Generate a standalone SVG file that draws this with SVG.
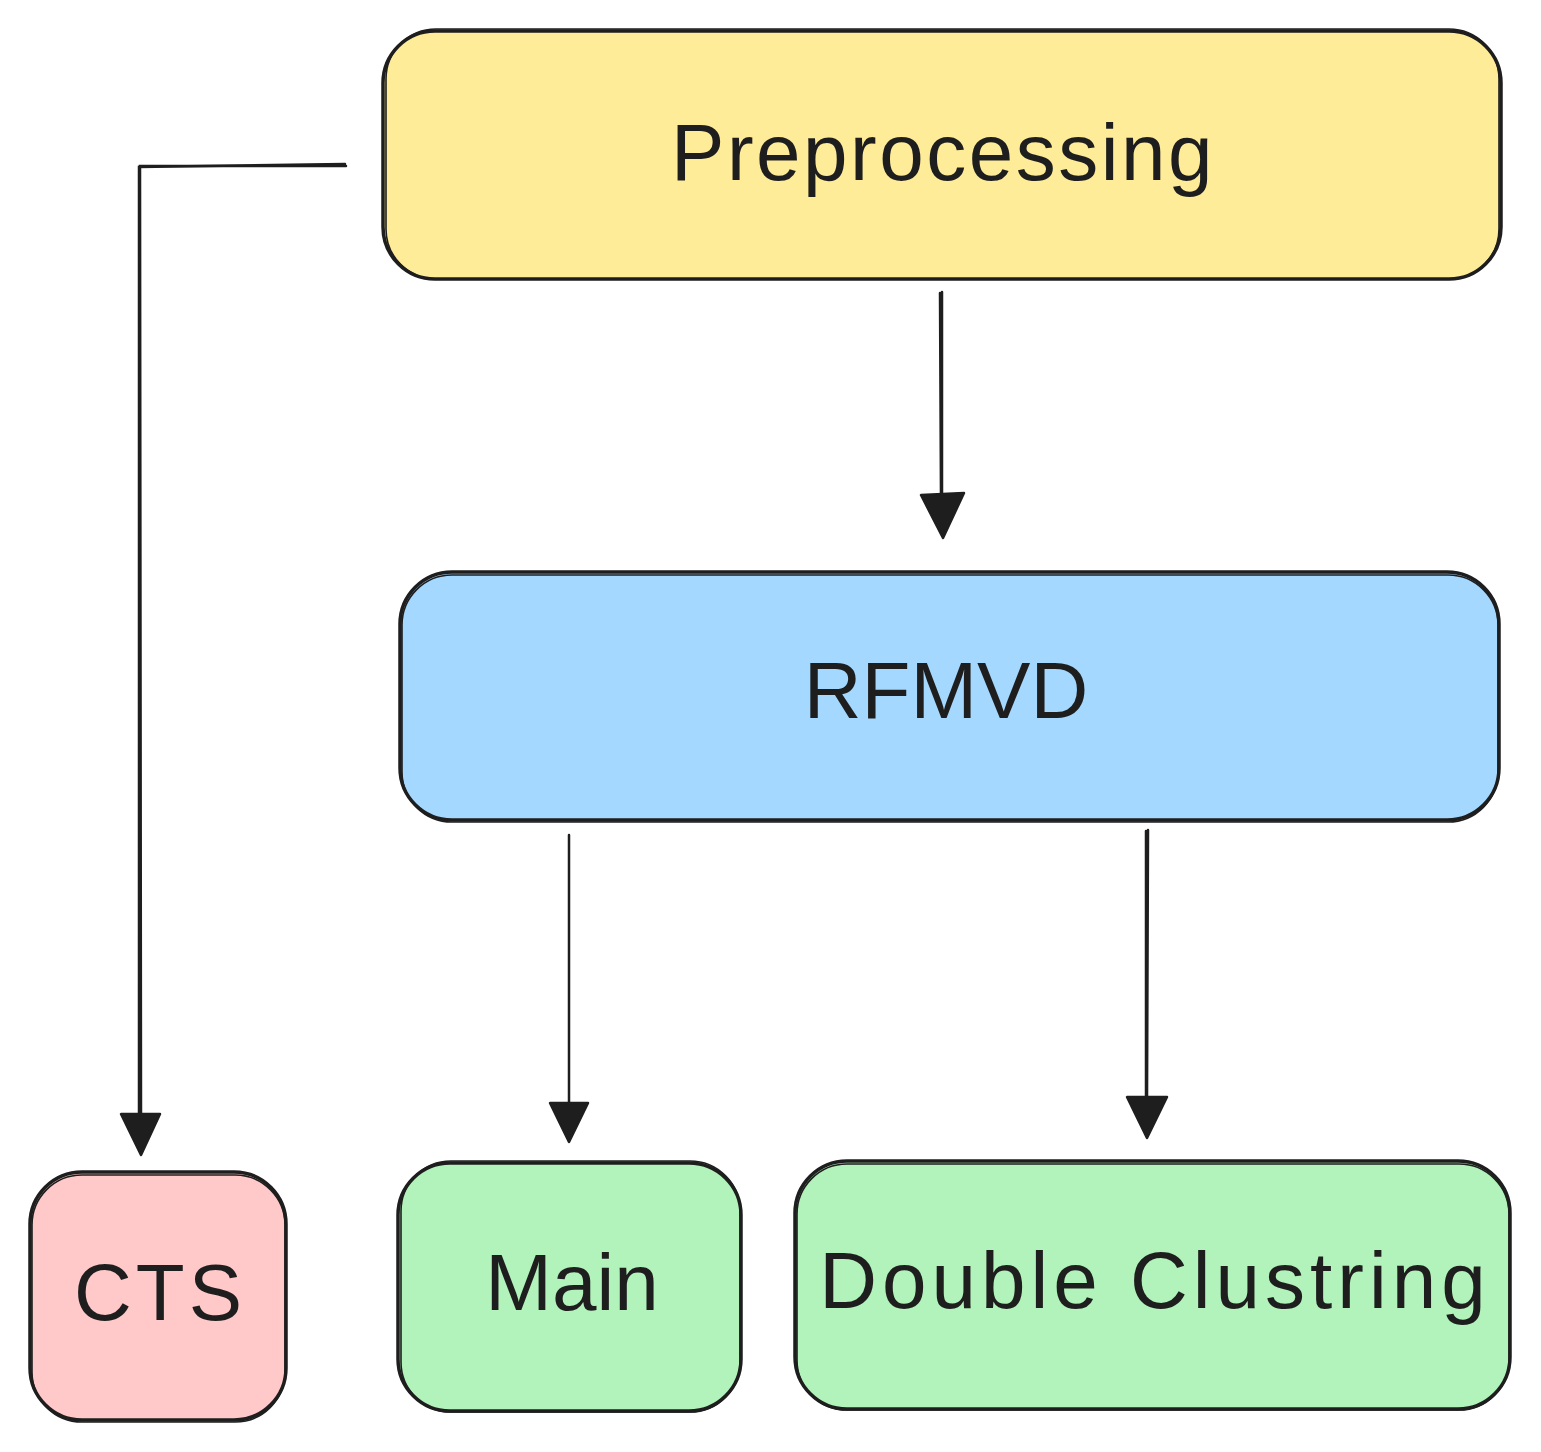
<svg xmlns="http://www.w3.org/2000/svg" width="1541" height="1452" viewBox="0 0 1541 1452">
  <defs>
    <style>
      .box { stroke: #1e1e1e; stroke-width: 3.5; }
      .sketch { fill: none; stroke: #1e1e1e; stroke-width: 1.6; }
      .label { font-family: "Liberation Sans", "DejaVu Sans", sans-serif; font-size: 80px; fill: #1e1e1e; text-anchor: middle; }
      .wire { fill: none; stroke: #1e1e1e; stroke-width: 2.5; stroke-linecap: round; }
      .head { fill: #1e1e1e; stroke: #1e1e1e; stroke-width: 2.5; stroke-linejoin: round; }
    </style>
  </defs>
  <rect width="1541" height="1452" fill="#ffffff"/>

  <g id="preprocessing">
    <rect class="box" x="383" y="31" width="1118" height="248" rx="52" fill="#ffec99"/>
    <rect class="sketch" x="386" y="29" width="1113" height="250" rx="50"/>
    <text class="label" x="943" y="180" letter-spacing="2.5">Preprocessing</text>
  </g>

  <g id="rfmvd">
    <rect class="box" x="400" y="572" width="1099" height="248" rx="52" fill="#a5d8ff"/>
    <rect class="sketch" x="402" y="575" width="1096" height="247" rx="50"/>
    <text class="label" x="946" y="718">RFMVD</text>
  </g>

  <g id="cts">
    <rect class="box" x="30" y="1172" width="256" height="248" rx="52" fill="#ffc9c9"/>
    <rect class="sketch" x="32" y="1175" width="253" height="247" rx="50"/>
    <text class="label" x="160" y="1320" letter-spacing="4">CTS</text>
  </g>

  <g id="main">
    <rect class="box" x="398" y="1163" width="343" height="248" rx="52" fill="#b2f2bb"/>
    <rect class="sketch" x="401" y="1161" width="339" height="251" rx="50"/>
    <text class="label" x="572" y="1310">Main</text>
  </g>

  <g id="double-clustring">
    <rect class="box" x="795" y="1161" width="715" height="248" rx="52" fill="#b2f2bb"/>
    <rect class="sketch" x="797" y="1164" width="712" height="246" rx="50"/>
    <text class="label" x="1155" y="1308" letter-spacing="5">Double Clustring</text>
  </g>

  <g id="connectors">
    <!-- Preprocessing to CTS -->
    <path class="wire" d="M346 166 L140 166 L141 1120"/>
    <path class="wire" d="M345 164 L139 167 L139 1120"/>
    <path class="head" d="M121 1114 L160 1114 L141 1155 Z"/>
    <!-- Preprocessing to RFMVD -->
    <path class="wire" d="M942 292 L942 500"/>
    <path class="wire" d="M940 293 L941 500"/>
    <path class="head" d="M921 495 L964 493 L943 538 Z"/>
    <!-- RFMVD to Main -->
    <path class="wire" d="M569 835 L569 1105"/>
    <path class="head" d="M550 1103 L588 1103 L569 1142 Z"/>
    <!-- RFMVD to Double Clustring -->
    <path class="wire" d="M1148 830 L1147 1100"/>
    <path class="wire" d="M1146 831 L1146 1100"/>
    <path class="head" d="M1127 1097 L1167 1097 L1147 1138 Z"/>
  </g>
</svg>
